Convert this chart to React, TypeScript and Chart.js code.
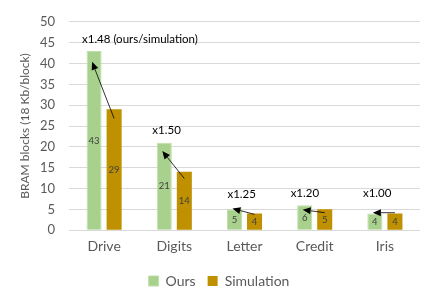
import React, { useEffect, useRef } from "react";
import { Chart, registerables } from "chart.js";

Chart.register(...registerables);

const categories = ["Drive", "Digits", "Letter", "Credit", "Iris"];
const ours = [43, 21, 5, 6, 4];
const simulation = [29, 14, 4, 5, 4];
const ratioLabels = ["x1.48 (ours/simulation)", "x1.50", "x1.25", "x1.20", "x1.00"];
const ratioLabelY = [45.8, 23.9, 8.7, 8.9, 8.9];
const ratioLabelOffset = [0.51, -0.11, -0.04, -0.14, -0.11];
const arrowFromY = [26.8, 12.4, 3.8, 4.2, 4.2];
const arrowToY = [40.4, 19, 5.2, 4.9, 4.2];
const yTicks = [0, 5, 10, 15, 20, 25, 30, 35, 40, 45, 50];

const FONT = "Lato, 'Open Sans', sans-serif";

const annotationPlugin = {
  id: "annots",
  afterDatasetsDraw(chart: any) {
    const ctx = chart.ctx;
    const y = chart.scales.y;
    const x = chart.scales.x;
    const m0 = chart.getDatasetMeta(0);
    const m1 = chart.getDatasetMeta(1);
    ctx.save();
    // value labels inside bars
    ctx.font = `9.5px ${FONT}`;
    ctx.fillStyle = "#404040";
    ctx.textAlign = "center";
    ctx.textBaseline = "middle";
    [m0, m1].forEach((meta: any, di: number) => {
      const vals = di === 0 ? ours : simulation;
      meta.data.forEach((bar: any, i: number) => {
        ctx.fillText(String(vals[i]), bar.x, y.getPixelForValue(vals[i] / 2));
      });
    });
    // arrows
    categories.forEach((_, i) => {
      const x0 = m1.data[i].x;
      const y0 = y.getPixelForValue(arrowFromY[i]);
      const x1 = m0.data[i].x - 2;
      const y1 = y.getPixelForValue(arrowToY[i]);
      const ang = Math.atan2(y1 - y0, x1 - x0);
      const head = 8;
      const hw = 3.5;
      const bx = x1 - head * Math.cos(ang);
      const by = y1 - head * Math.sin(ang);
      ctx.strokeStyle = "#000";
      ctx.lineWidth = 0.8;
      ctx.beginPath();
      ctx.moveTo(x0, y0);
      ctx.lineTo(bx, by);
      ctx.stroke();
      ctx.fillStyle = "#000";
      ctx.beginPath();
      ctx.moveTo(x1, y1);
      ctx.lineTo(bx + hw * Math.sin(ang), by - hw * Math.cos(ang));
      ctx.lineTo(bx - hw * Math.sin(ang), by + hw * Math.cos(ang));
      ctx.closePath();
      ctx.fill();
    });
    // ratio labels
    ctx.font = `11.5px ${FONT}`;
    ctx.fillStyle = "#000";
    const catW = x.getPixelForValue(1) - x.getPixelForValue(0);
    categories.forEach((_, i) => {
      const cx = x.getPixelForValue(i) + ratioLabelOffset[i] * catW;
      ctx.fillText(ratioLabels[i], cx, y.getPixelForValue(ratioLabelY[i]));
    });
    ctx.restore();
  },
};

export default function App() {
  const ref = useRef<HTMLCanvasElement>(null);
  useEffect(() => {
    document.body.style.margin = "0";
    const chart = new Chart(ref.current!, {
      type: "bar",
      data: {
        labels: categories,
        datasets: [
          {
            label: "Ours",
            data: ours,
            backgroundColor: "#a9d18e",
            borderColor: "#bfe0a8",
            borderWidth: 1,
            categoryPercentage: 0.571,
            barPercentage: 0.75,
          },
          {
            label: "Simulation",
            data: simulation,
            backgroundColor: "#bf9000",
            borderWidth: 0,
            categoryPercentage: 0.571,
            barPercentage: 0.75,
          },
        ],
      },
      options: {
        responsive: false,
        animation: false,
        layout: { padding: { top: 4, right: 16, left: 18, bottom: 5 } },
        plugins: {
          tooltip: { enabled: false },
          legend: {
            position: "bottom",
            labels: {
              boxWidth: 10,
              boxHeight: 10,
              color: "#595959",
              font: { family: FONT, size: 14 },
              padding: 12,
            },
          },
        },
        scales: {
          x: {
            grid: { display: false },
            border: { display: false },
            ticks: { color: "#595959", font: { family: FONT, size: 14 }, padding: 0 },
            afterFit: (s: any) => {
              s.height += 7;
            },
          },
          y: {
            min: 0,
            max: 50,
            afterBuildTicks: (ax: any) => {
              ax.ticks = yTicks.map((v) => ({ value: v }));
            },
            afterFit: (s: any) => {
              s.width = 51;
            },
            grid: { color: "#d9d9d9", drawTicks: false },
            border: { display: false },
            ticks: { color: "#595959", font: { family: FONT, size: 13 }, padding: 14 },
            title: {
              display: true,
              text: "BRAM blocks (18 Kb/block)",
              color: "#595959",
              font: { family: FONT, size: 12 },
              padding: { top: 0, bottom: 4 },
            },
          },
        },
      },
      plugins: [annotationPlugin],
    });
    return () => chart.destroy();
  }, []);
  return <canvas ref={ref} width={436} height={303} />;
}
